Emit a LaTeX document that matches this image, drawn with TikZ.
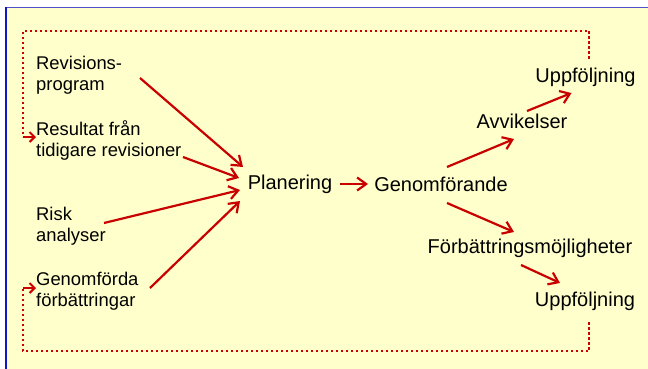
\documentclass[tikz,border=0pt]{standalone}
\usepackage{fontspec}
\setmainfont{Liberation Sans}
\usetikzlibrary{arrows.meta}
\definecolor{bgyellow}{RGB}{255,255,204}
\definecolor{arrred}{RGB}{200,0,0}
\definecolor{dotred}{RGB}{204,0,0}
\definecolor{bordblue}{RGB}{20,20,200}
\definecolor{topblue}{RGB}{80,80,200}
\tikzset{
  lbl/.style={inner sep=0pt, anchor=west, align=left, font=\fontsize{18.4}{21}\selectfont},
  mainlbl/.style={inner sep=0pt, font=\fontsize{20}{24}\selectfont},
  arr/.style={draw=arrred, line width=2.2pt, -{Straight Barb[length=9pt,width=13pt]}},
  loopline/.style={draw=dotred, line width=2.4pt, dash pattern=on 2.5pt off 2.5pt},
  looptip/.style={draw=dotred, line width=2pt, -{Straight Barb[length=5pt,width=10pt]}}
}
\begin{document}
\begin{tikzpicture}[x=1pt,y=-1pt]
\useasboundingbox (0,0) rectangle (648,369);
\fill[white] (0,0) rectangle (648,369);
\fill[bgyellow] (6,7.5) rectangle (648,369);
\draw[topblue, line width=1.8pt] (6,7.5) -- (648,7.5);
\draw[bordblue, line width=1.4pt] (6,7) -- (6,369);

% left labels
\node[lbl] (rev)  at (36,75)  {Revisions-\\program};
\node[lbl] (res)  at (36,140) {Resultat från\\tidigare revisioner};
\node[lbl] (risk) at (36,226) {Risk\\analyser};
\node[lbl] (gen)  at (36,291) {Genomförda\\förbättringar};

% main labels
\node[mainlbl] (plan) at (290,184) {Planering};
\node[mainlbl] (genf) at (441,184) {Genomförande};
\node[mainlbl] (avv)  at (522,121) {Avvikelser};
\node[mainlbl] (upp1) at (585.5,77) {Uppföljning};
\node[mainlbl] (forb) at (530,248) {Förbättringsmöjligheter};
\node[mainlbl] (upp2) at (585,301) {Uppföljning};

% arrows into Planering
\draw[arr] ([shift={(104,3)}]rev.west) -- ([shift={(-47,-17)}]plan.center);
\draw[arr] ([shift={(147,17)}]res.west) -- ([shift={(-51,-6)}]plan.center);
\draw[arr] ([shift={(68,-3)}]risk.west) -- ([shift={(-50,6)}]plan.center);
\draw[arr] ([shift={(114,-3)}]gen.west) -- ([shift={(-50,17)}]plan.center);

% main flow
\draw[arr] ([xshift=50pt]plan.center) -- ([xshift=-73pt]genf.center);
\draw[arr] ([shift={(6,-17)}]genf.center) -- ([shift={(-8,18)}]avv.center);
\draw[arr] ([shift={(5,-10)}]avv.center) -- ([shift={(-14,16)}]upp1.center);
\draw[arr] ([shift={(6,19)}]genf.center) -- ([shift={(-16,-16)}]forb.center);
\draw[arr] ([shift={(-9,17)}]forb.center) -- ([shift={(-25,-18)}]upp2.center);

% feedback loops
\coordinate (t1) at (589,59);
\coordinate (t2) at (589,31);
\coordinate (t3) at (23,31);
\coordinate (t4) at (23,137);
\coordinate (b1) at (589,322);
\coordinate (b2) at (589,351);
\coordinate (b3) at (23,351);
\coordinate (b4) at (23,288);
\draw[loopline] (t1) -- (t2) -- (t3) -- (t4);
\draw[looptip] (t4) -- (res.west |- t4);
\draw[loopline] (b1) -- (b2) -- (b3) -- (b4);
\draw[looptip] (b4) -- (gen.west |- b4);
\end{tikzpicture}
\end{document}
